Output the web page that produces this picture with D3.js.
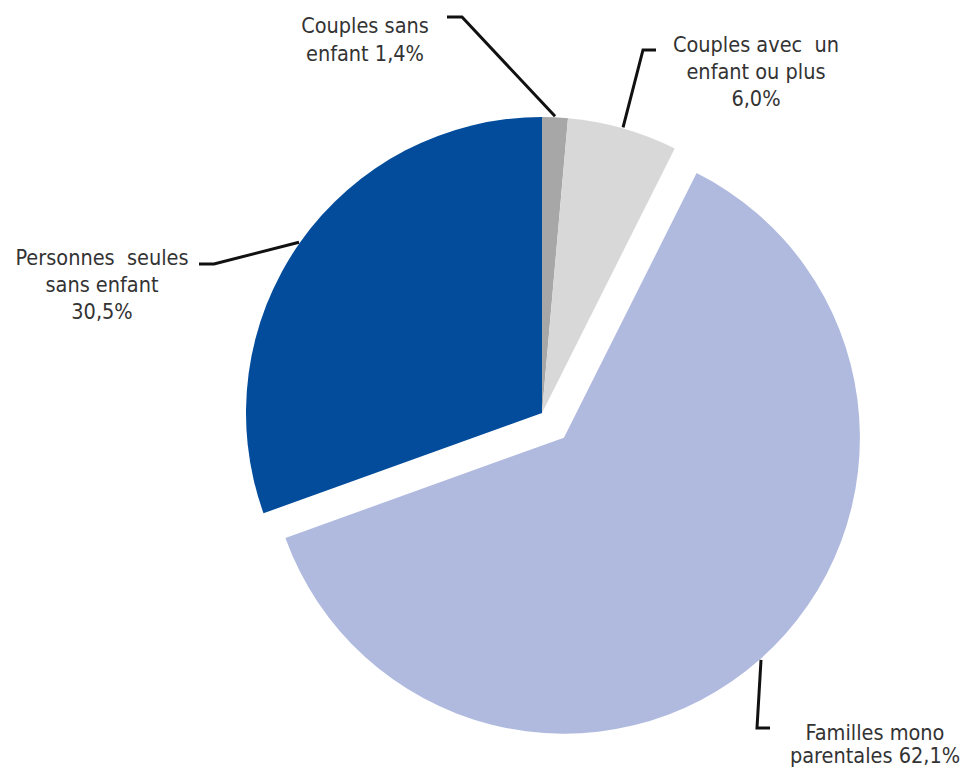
<!DOCTYPE html>
<html>
<head>
<meta charset="utf-8">
<script src="https://cdn.jsdelivr.net/npm/d3@7"></script>
<style>
  html, body { margin: 0; padding: 0; background: #ffffff; }
  svg { display: block; }
  text { font-family: "DejaVu Sans Condensed", "DejaVu Sans", sans-serif; fill: #333333; }
</style>
</head>
<body>
<svg id="chart" width="962" height="773"></svg>
<script>
// Household types (share of total, %)
const categories = [
  "Couples sans enfant",
  "Couples avec un enfant ou plus",
  "Familles mono parentales",
  "Personnes seules sans enfant"
];
const values = [1.4, 6.0, 62.1, 30.5];
const valueLabels = ["1,4%", "6,0%", "62,1%", "30,5%"];
const labelLines = [
  ["Couples sans", "enfant 1,4%"],
  ["Couples avec  un", "enfant ou plus", "6,0%"],
  ["Familles mono", "parentales 62,1%"],
  ["Personnes  seules", "sans enfant", "30,5%"]
];
const colors = ["#a7a7a7", "#d8d8d8", "#b0badf", "#024c9b"];
const explodedIndex = 2;

// Layout
const cx = 542, cy = 413, radius = 296, explode = 33;
const fontSize = 21.5;
// label text anchor (centre of first baseline), line gap, leader elbow and tail end
const labelLayout = [
  { x: 365, y: 33, gap: 28, elbow: [462, 17], tail: [447, 17] },
  { x: 756, y: 52, gap: 27, elbow: [643, 50], tail: [656, 50] },
  { x: 875, y: 740, gap: 23, elbow: [757, 728], tail: [770, 728] },
  { x: 102, y: 265, gap: 27, elbow: [214, 264], tail: [199, 264] }
];

const svg = d3.select("#chart");

const pie = d3.pie().sort(null).value(d => d).startAngle(0).endAngle(2 * Math.PI);
const arcs = pie(values);
const arc = d3.arc().innerRadius(0).outerRadius(radius);

const mid = d => (d.startAngle + d.endAngle) / 2;
const offsetOf = (d, i) => {
  const k = i === explodedIndex ? explode : 0;
  return [Math.sin(mid(d)) * k, -Math.cos(mid(d)) * k];
};

const g = svg.append("g").attr("transform", `translate(${cx},${cy})`);

g.selectAll("path.slice")
  .data(arcs)
  .join("path")
  .attr("class", "slice")
  .attr("d", arc)
  .attr("fill", (d, i) => colors[i])
  .attr("transform", (d, i) => {
    const [ox, oy] = offsetOf(d, i);
    return `translate(${ox},${oy})`;
  });

// Leader lines from the slice rim to the labels
const leader = d3.line();
svg.selectAll("path.leader")
  .data(arcs)
  .join("path")
  .attr("class", "leader")
  .attr("fill", "none")
  .attr("stroke", "#111")
  .attr("stroke-width", 3)
  .attr("d", (d, i) => {
    const [ox, oy] = offsetOf(d, i);
    const a = mid(d), r = radius + 1;
    const start = [cx + ox + Math.sin(a) * r, cy + oy - Math.cos(a) * r];
    const L = labelLayout[i];
    return leader([start, L.elbow, L.tail]);
  });

// Labels
const labels = svg.selectAll("text.label")
  .data(arcs)
  .join("text")
  .attr("class", "label")
  .attr("text-anchor", "middle")
  .attr("font-size", fontSize)
  .attr("x", (d, i) => labelLayout[i].x)
  .attr("y", (d, i) => labelLayout[i].y);

labels.selectAll("tspan")
  .data((d, i) => labelLines[i].map(t => ({ t, x: labelLayout[i].x, gap: labelLayout[i].gap })))
  .join("tspan")
  .attr("x", d => d.x)
  .attr("dy", (d, j) => j === 0 ? 0 : d.gap)
  .attr("xml:space", "preserve")
  .text(d => d.t);
</script>
</body>
</html>
